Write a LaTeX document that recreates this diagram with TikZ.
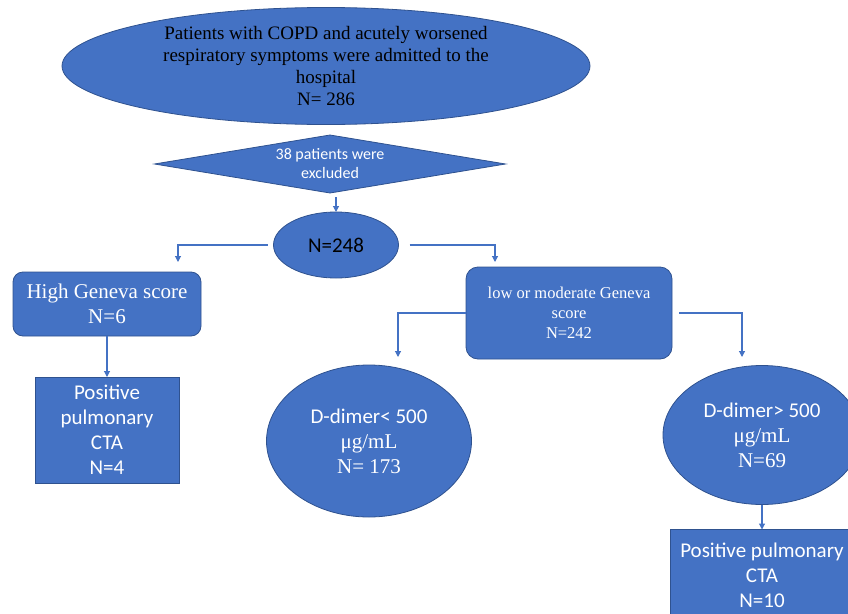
\documentclass[tikz,border=0pt]{standalone}
\usepackage{fontspec}
\setmainfont{Liberation Serif}
\setsansfont{Carlito}
\usepackage{tikz}
\usetikzlibrary{arrows.meta, positioning, shapes.geometric}
\usepackage{xcolor}
\definecolor{officeblue}{HTML}{4472C4}
\definecolor{edgeblue}{HTML}{2F528F}

\begin{document}
\begin{tikzpicture}[
      x=1pt, y=-1pt,
      every node/.style={inner sep=0pt, outer sep=0pt, align=center},
      oval/.style={draw=edgeblue, line width=0.8pt, fill=officeblue, ellipse, text=white},
      gate/.style={draw=edgeblue, line width=0.8pt, fill=officeblue, diamond, aspect=6, text=white},
      box/.style={draw=edgeblue, line width=0.8pt, fill=officeblue, rounded corners=10pt, text=white},
      sqbox/.style={draw=edgeblue, line width=0.8pt, fill=officeblue, text=white},
      link/.style={draw=officeblue, line width=1.1pt, -{Triangle[width=6pt, length=6pt]}},
      serif/.style={font=\rmfamily\fontsize{21}{25}\selectfont},
      sans/.style={font=\sffamily\fontsize{21}{25}\selectfont}
    ]
    \clip (0,0) rectangle (848,613);
    \node[oval, text=black, minimum width=528pt, minimum height=117pt, font=\rmfamily\fontsize{19}{22}\selectfont] (adm) at (326,66) {Patients with COPD and acutely worsened\\respiratory symptoms were admitted to the\\hospital\\N= 286};
    \node[gate, minimum width=351pt, minimum height=58pt, font=\sffamily\fontsize{16}{19}\selectfont] (excl) at (330,164) {38 patients were\\excluded};
    \node[oval, sans, text=black, minimum width=125pt, minimum height=66pt, below=19pt of excl, xshift=6pt] (pool) {N=248};
    \node[box, serif, minimum width=188pt, minimum height=64pt] (high) at (107,304) {High Geneva score\\N=6};
    \node[sqbox, sans, minimum width=144pt, minimum height=106pt, below=41pt of high] (ctaL) {Positive\\pulmonary\\CTA\\N=4};
    \node[box, rounded corners=12pt, font=\rmfamily\fontsize{16.5}{20}\selectfont, minimum width=206pt, minimum height=92pt] (low) at (569,313) {low or moderate Geneva\\score\\N=242};
    \node[oval, serif, minimum width=205pt, minimum height=152pt] (dlow) at (369,441) {{\sffamily D-dimer< 500}\\μg/mL\\N= 173};
    \node[oval, serif, minimum width=198pt, minimum height=139pt] (dhigh) at (762,435) {{\sffamily D-dimer> 500}\\μg/mL\\N=69};
    \node[sqbox, sans, minimum width=184pt, minimum height=92pt, below=25pt of dhigh] (ctaR) {Positive pulmonary\\CTA\\N=10};

    \coordinate (hl) at (178,262);
    \coordinate (hr) at (495,262);
    \coordinate (dl) at (398,357);
    \coordinate (dr) at (742,357);

    \draw[link, shorten <=4pt] (pool.north |- excl.south) -- (pool.north);
    \draw[link, shorten <=6pt] (pool.west) -| (hl);
    \draw[link, shorten <=11pt] (pool.east) -| (hr);
    \draw[link] (high) -- (ctaL);
    \draw[link] (low.west) -| (dl);
    \draw[link, shorten <=7pt] (low.east) -| (dr);
    \draw[link] (dhigh) -- (ctaR);
  \end{tikzpicture}
\end{document}
